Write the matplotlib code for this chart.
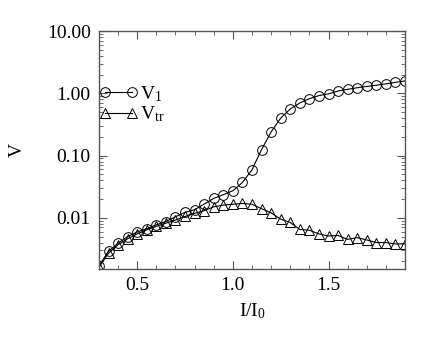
import numpy as np
import matplotlib
matplotlib.use('Agg')
import matplotlib.pyplot as plt
from matplotlib.ticker import MultipleLocator, FixedLocator, NullFormatter, FuncFormatter

plt.rcParams['font.family'] = 'serif'
plt.rcParams['font.serif'] = ['Liberation Serif', 'DejaVu Serif']
plt.rcParams['mathtext.default'] = 'regular'

# current ratio I/I0
x = [0.30, 0.35, 0.40, 0.45, 0.50, 0.55, 0.60, 0.65, 0.70, 0.75, 0.80,
     0.85, 0.90, 0.95, 1.00, 1.05, 1.10, 1.15, 1.20, 1.25, 1.30, 1.35,
     1.40, 1.45, 1.50, 1.55, 1.60, 1.65, 1.70, 1.75, 1.80, 1.85, 1.90]

v1 = [0.0017, 0.0029, 0.0039, 0.0050, 0.0059, 0.0067, 0.0077, 0.0087,
      0.0104, 0.0122, 0.0135, 0.0166, 0.0205, 0.0235, 0.0272, 0.037,
      0.059, 0.125, 0.24, 0.40, 0.56, 0.70, 0.82, 0.92, 0.98, 1.09,
      1.16, 1.23, 1.29, 1.35, 1.42, 1.50, 1.58]

vtr = [0.0016, 0.0027, 0.0037, 0.0046, 0.0055, 0.0064, 0.0073, 0.0082,
       0.0092, 0.0105, 0.0118, 0.0130, 0.0150, 0.0160, 0.0165, 0.0170,
       0.0165, 0.0140, 0.0120, 0.0095, 0.0084, 0.0065, 0.0063, 0.0055,
       0.0051, 0.0052, 0.0045, 0.0048, 0.0044, 0.0040, 0.0040, 0.0038,
       0.0038]

yticks = [0.01, 0.1, 1.0, 10.0]

fig = plt.figure(figsize=(4.36, 3.38), dpi=100)
ax = fig.add_axes([0.227, 0.204, 0.702, 0.704])

ax.plot(x, v1, '-k', marker='o', mfc='none', mec='k', ms=7, lw=0.8, mew=0.7,
        label='V$_1$')
ax.plot(x, vtr, '-k', marker='^', mfc='none', mec='k', ms=7, lw=0.8, mew=0.7,
        label='V$_{tr}$')

ax.set_yscale('log')
ax.set_xlim(0.3, 1.9)
ax.set_ylim(0.0015, 10)

ax.xaxis.set_major_locator(MultipleLocator(0.5))
ax.xaxis.set_minor_locator(MultipleLocator(0.1))
ax.xaxis.set_major_formatter(FuncFormatter(lambda v, p: '%.1f' % v))
ax.yaxis.set_major_locator(FixedLocator(yticks))
ax.yaxis.set_major_formatter(FuncFormatter(lambda v, p: '%.2f' % v))
ax.yaxis.set_minor_formatter(NullFormatter())

ax.tick_params(which='both', direction='in', top=True, right=True,
               labelsize=14, color='#555555')
ax.tick_params(which='major', length=6, width=0.8, pad=6)
ax.tick_params(which='minor', length=3, width=0.6)
for s in ax.spines.values():
    s.set_color('#555555')
    s.set_linewidth(1.0)

ax.set_xlabel('I/I$_0$', fontsize=14, labelpad=5)
ax.set_ylabel('V', fontsize=14)
ax.yaxis.set_label_coords(-0.24, 0.5)

ax.legend(loc='upper left', bbox_to_anchor=(-0.025, 0.81), frameon=False,
          numpoints=2, handlelength=2.0, handletextpad=0.1, labelspacing=0.05,
          fontsize=14, borderaxespad=0)

fig.savefig('out.png', dpi=100)
